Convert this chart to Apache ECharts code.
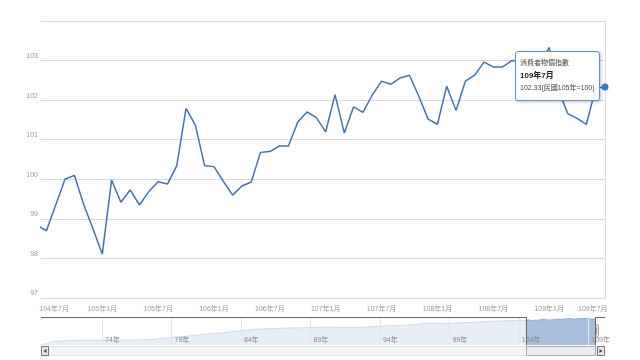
<!DOCTYPE html>
<html><head><meta charset="utf-8">
<script src="https://cdn.jsdelivr.net/npm/echarts@6/dist/echarts.min.js"></script>
<style>html,body{margin:0;padding:0;background:#fff}#c{width:640px;height:360px}</style>
</head><body><div id="c"></div>
<script>
const seriesName = '消費者物價指數';
const unitNote = '(民國105年=100)';
const months = [
 '104年6月','104年7月','104年8月','104年9月','104年10月','104年11月','104年12月',
 '105年1月','105年2月','105年3月','105年4月','105年5月','105年6月','105年7月','105年8月','105年9月','105年10月','105年11月','105年12月',
 '106年1月','106年2月','106年3月','106年4月','106年5月','106年6月','106年7月','106年8月','106年9月','106年10月','106年11月','106年12月',
 '107年1月','107年2月','107年3月','107年4月','107年5月','107年6月','107年7月','107年8月','107年9月','107年10月','107年11月','107年12月',
 '108年1月','108年2月','108年3月','108年4月','108年5月','108年6月','108年7月','108年8月','108年9月','108年10月','108年11月','108年12月',
 '109年1月','109年2月','109年3月','109年4月','109年5月','109年6月','109年7月'
];
const cpi = [
 98.83, 98.70, 99.35, 100.00, 100.10, 99.37, 98.75,
 98.11, 99.98, 99.42, 99.73, 99.35, 99.69, 99.94, 99.88, 100.34, 101.79, 101.37, 100.34,
 100.32, 99.95, 99.60, 99.83, 99.93, 100.68, 100.70, 100.84, 100.84, 101.45, 101.70, 101.56,
 101.20, 102.14, 101.17, 101.83, 101.69, 102.13, 102.48, 102.40, 102.56, 102.63, 102.10, 101.52,
 101.39, 102.35, 101.74, 102.48, 102.63, 102.96, 102.84, 102.84, 103.00, 102.98, 102.85, 102.90,
 103.33, 102.25, 101.66, 101.54, 101.39, 102.30, 102.33
];
const xTickIndex = [1, 7, 13, 19, 25, 31, 37, 43, 49, 55, 61];
const navYears = [69,70,71,72,73,74,75,76,77,78,79,80,81,82,83,84,85,86,87,88,89,90,91,92,93,94,95,96,97,98,99,100,101,102,103];
const navAnnual = [49.1,57.0,58.7,59.5,59.5,59.4,59.8,60.1,60.9,63.6,66.2,68.6,71.7,73.8,76.8,79.6,82.1,82.8,84.2,84.4,85.5,85.5,85.3,85.1,86.4,88.4,89.0,90.6,93.7,92.9,93.8,95.1,96.9,97.7,98.9];
const navTickYears = [74, 79, 84, 89, 94, 99, 104, 109];
const selStart = 1;

const last = cpi.length - 1;
const toYear = (label) => { const y = parseInt(label); const m = parseInt(label.split('年')[1]); return y + (m - 1) / 12; };
const FONT = '"Liberation Sans","Noto Sans CJK TC",sans-serif';

const mainData = cpi.map((v, i) => i === last
  ? { value: [i, v], symbol: 'circle', symbolSize: 7, itemStyle: { color: '#3a78cc' } }
  : [i, v]);
const navAll = navYears.map((y, i) => [y + 0.5, navAnnual[i]]).concat(cpi.map((v, i) => [toYear(months[i]), v]));
const navSel = cpi.map((v, i) => [toYear(months[i]), v]).slice(selStart);

const chart = echarts.init(document.getElementById('c'));
chart.setOption({
  animation: false,
  textStyle: { fontFamily: FONT },
  grid: [
    { left: 41, right: 35, top: 21, bottom: 62 },
    { left: 41, right: 35, top: 317, height: 28 }
  ],
  tooltip: {
    trigger: 'item', triggerOn: 'none', alwaysShowContent: true,
    position: [515, 51], transitionDuration: 0,
    backgroundColor: 'rgba(255,255,255,0.93)', borderColor: '#5b8fd0', borderWidth: 1,
    padding: [5, 4], extraCssText: 'border-radius:3px;box-shadow:1px 1px 3px rgba(0,0,0,0.25);',
    formatter: (p) => {
      return '<div style="font-family:' + FONT.replace(/"/g, "'") + ';color:#444">' +
        '<div style="font-size:7px;line-height:12.5px">' + seriesName + '</div>' +
        '<div style="font-size:8px;line-height:12.5px;font-weight:bold;color:#222">' + months[p.dataIndex] + '</div>' +
        '<div style="font-size:7px;line-height:12.5px">' + p.value[1].toFixed(2) + unitNote + '</div></div>';
    }
  },
  xAxis: [
    {
      type: 'value', gridIndex: 0, min: 0.42, max: last,
      axisLine: { show: false }, axisTick: { show: false }, splitLine: { show: false },
      axisLabel: {
        customValues: xTickIndex, color: '#999', fontSize: 7, margin: 8,
        formatter: (v) => {
          const t = months[Math.round(v)];
          if (Math.round(v) === xTickIndex[0]) return '{l|' + t + '}';
          if (Math.round(v) === xTickIndex[xTickIndex.length - 1]) return '{r|' + t + '}';
          return t;
        },
        rich: {
          l: { width: 45, align: 'right', fontSize: 7, color: '#999' },
          r: { width: 54, align: 'left', fontSize: 7, color: '#999' }
        }
      }
    },
    {
      type: 'value', gridIndex: 1, min: 69.6, max: 110.2, z: 5,
      axisLine: { show: false }, splitLine: { show: false },
      axisTick: { show: true, customValues: navTickYears, inside: true, length: 28, lineStyle: { color: '#e6e6e6' } },
      axisLabel: {
        customValues: navTickYears, inside: true, margin: 1, align: 'left', padding: [0, 0, 0, 3],
        color: '#888', fontSize: 7, formatter: (v) => v + '年'
      }
    }
  ],
  yAxis: [
    {
      type: 'value', gridIndex: 0, min: 97, max: 104, interval: 1,
      axisLine: { show: false }, axisTick: { show: false },
      splitLine: { lineStyle: { color: '#d9d9d9' } },
      axisLabel: { color: '#999', fontSize: 7, margin: 3, verticalAlign: 'bottom', lineHeight: 9, showMaxLabel: false }
    },
    { type: 'value', gridIndex: 1, min: 50, max: 106, show: false },
    {
      type: 'value', gridIndex: 0, position: 'right', min: 97, max: 104, interval: 1,
      axisLine: { show: true, lineStyle: { color: '#dddddd' } }, axisTick: { show: false },
      axisLabel: { show: false }, splitLine: { show: false }
    }
  ],
  series: [
    {
      name: seriesName, type: 'line', xAxisIndex: 0, yAxisIndex: 0, data: mainData,
      symbol: 'none', showSymbol: true, lineStyle: { color: '#4572a7', width: 1.5 },
      itemStyle: { color: '#4572a7' }, emphasis: { disabled: true }, clip: true
    },
    {
      type: 'line', xAxisIndex: 1, yAxisIndex: 1, data: navAll, symbol: 'none', silent: true, z: 1,
      lineStyle: { color: '#cfdbea', width: 1 }, areaStyle: { color: '#e9eff7', opacity: 1 }, tooltip: { show: false }
    },
    {
      type: 'line', xAxisIndex: 1, yAxisIndex: 1, data: navSel, symbol: 'none', silent: true, z: 1,
      lineStyle: { color: '#8ea8cd', width: 1 }, areaStyle: { color: '#a9bfdd', opacity: 1 }, tooltip: { show: false }
    }
  ]
});

const hx1 = Math.round(chart.convertToPixel({ xAxisIndex: 1 }, toYear(months[selStart]))) + 0.5;
const hx2 = Math.round(chart.convertToPixel({ xAxisIndex: 1 }, toYear(months[last]))) + 0.5;
const navTop = 317.5, navBot = 345.5, sbY = 346.5, sbH = 9;
const handle = (x) => ({
  type: 'group', children: [
    { type: 'rect', shape: { x: x - 3, y: 324.5, width: 6, height: 13, r: 2 }, style: { fill: '#eeeeee', stroke: '#999', lineWidth: 1 } },
    { type: 'line', shape: { x1: x - 1, y1: 327.5, x2: x - 1, y2: 334.5 }, style: { stroke: '#999', lineWidth: 1 } },
    { type: 'line', shape: { x1: x + 1, y1: 327.5, x2: x + 1, y2: 334.5 }, style: { stroke: '#999', lineWidth: 1 } }
  ]
});
chart.setOption({
  graphic: [
    { type: 'polyline', z: 10, shape: { points: [[41, navTop], [hx1, navTop], [hx1, navBot]] }, style: { stroke: '#666', lineWidth: 1, fill: null } },
    { type: 'polyline', z: 10, shape: { points: [[hx2, navBot], [hx2, navTop], [605, navTop]] }, style: { stroke: '#666', lineWidth: 1, fill: null } },
    { type: 'rect', z: 10, shape: { x: 41.5, y: sbY, width: 563, height: sbH }, style: { fill: '#f4f4f4', stroke: '#e0e0e0' } },
    { type: 'rect', z: 10, shape: { x: hx1, y: sbY, width: hx2 - hx1, height: sbH }, style: { fill: '#ececec', stroke: '#aaa' } },
    { type: 'group', z: 11, children: [
      { type: 'line', shape: { x1: (hx1 + hx2) / 2 - 2, y1: sbY + 2.5, x2: (hx1 + hx2) / 2 - 2, y2: sbY + sbH - 2.5 }, style: { stroke: '#888' } },
      { type: 'line', shape: { x1: (hx1 + hx2) / 2, y1: sbY + 2.5, x2: (hx1 + hx2) / 2, y2: sbY + sbH - 2.5 }, style: { stroke: '#888' } },
      { type: 'line', shape: { x1: (hx1 + hx2) / 2 + 2, y1: sbY + 2.5, x2: (hx1 + hx2) / 2 + 2, y2: sbY + sbH - 2.5 }, style: { stroke: '#888' } }
    ] },
    { type: 'rect', z: 11, shape: { x: 41.5, y: sbY, width: 7, height: sbH }, style: { fill: '#e6e6e6', stroke: '#777' } },
    { type: 'polygon', z: 12, shape: { points: [[43.5, sbY + sbH / 2], [46.5, sbY + 2.5], [46.5, sbY + sbH - 2.5]] }, style: { fill: '#444' } },
    { type: 'rect', z: 11, shape: { x: 597.5, y: sbY, width: 7, height: sbH }, style: { fill: '#e6e6e6', stroke: '#777' } },
    { type: 'polygon', z: 12, shape: { points: [[602.5, sbY + sbH / 2], [599.5, sbY + 2.5], [599.5, sbY + sbH - 2.5]] }, style: { fill: '#444' } },
    Object.assign(handle(hx1), { z: 12 }),
    Object.assign(handle(hx2), { z: 12 })
  ]
});
chart.dispatchAction({ type: 'showTip', seriesIndex: 0, dataIndex: last });
</script>
</body></html>
